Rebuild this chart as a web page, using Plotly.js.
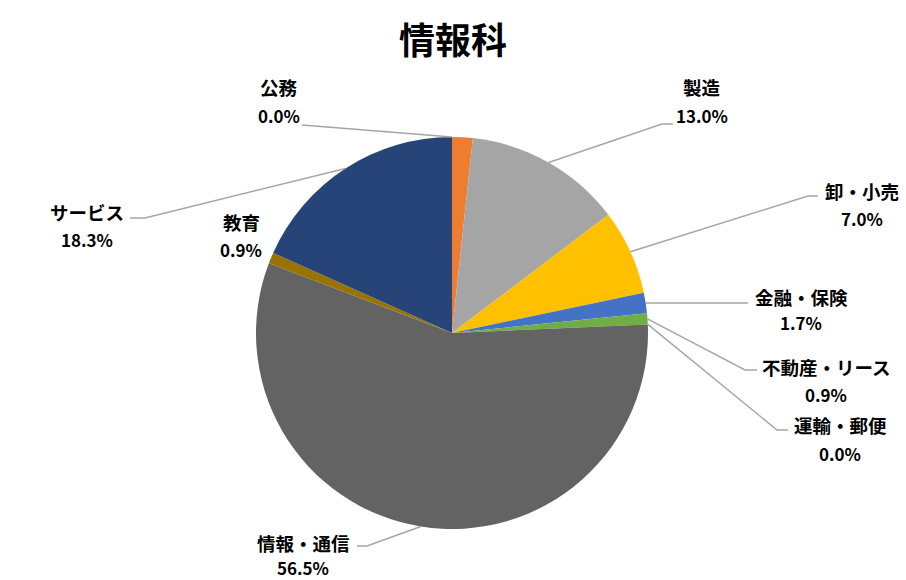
<!DOCTYPE html>
<html>
<head>
<meta charset="utf-8">
<script src="https://cdn.plot.ly/plotly-3.0.1.min.js"></script>
<style>
  body { margin: 0; background: #fff; }
  #chart { width: 906px; height: 580px; }
</style>
</head>
<body>
<div id="chart"></div>
<script>
W = 906;
H = 580;
CX = 452;
CY = 333;
R = 196;

// slices, clockwise from 12 o'clock
var categories = ["公務", "その他", "製造", "卸・小売", "金融・保険", "不動産・リース", "運輸・郵便", "情報・通信", "教育", "サービス"];
var shares = [0.0, 1.7, 13.0, 7.0, 1.7, 0.9, 0.0, 56.5, 0.9, 18.3];
var showLabel = [true, false, true, true, true, true, true, true, true, true];
var colors = ["#4472C4", "#ED7D31", "#A5A5A5", "#FFC000", "#4472C4", "#70AD47", "#264478", "#636363", "#997300", "#264478"];

// label boxes (name centre, gap to percentage) and leader elbows, in pixels
var labelPos = [
    { x: 279, y: 87, dy: 28, lead: [[302, 125]] },
    null,
    { x: 702, y: 87, dy: 28, lead: [[673, 124], [662, 124]] },
    { x: 862, y: 191, dy: 28, lead: [[818, 196], [808, 196]] },
    { x: 801, y: 297, dy: 26, lead: [[748, 303]] },
    { x: 826, y: 367, dy: 27, lead: [[757, 370], [745, 370]] },
    { x: 840, y: 425, dy: 28, lead: [[788, 430], [777, 430]] },
    { x: 303, y: 543, dy: 24, lead: [[357, 546], [367, 546]] },
    { x: 241, y: 222, dy: 28, lead: null },
    { x: 87, y: 212, dy: 28, lead: [[130, 218], [145, 218]] }
];

function px(x) { return x / W }
function py(y) { return 1 - y / H }

function sliceEdge(i) {
    let total = shares.reduce((a, b) => a + b, 0)
    let before = 0
    for (let k = 0; k < i; k++) before += shares[k]
    let mid = (before + shares[i] / 2) / total * 2 * Math.PI
    return [CX + R * Math.sin(mid), CY - R * Math.cos(mid)]
}

var annotations = []
var shapes = []

for (let i in categories) {
    let pos = labelPos[i]
    if (!showLabel[i] || !pos) continue;

    annotations.push({
        xref: "paper", yref: "paper",
        x: px(pos.x), y: py(pos.y),
        xanchor: "center", yanchor: "middle",
        showarrow: false,
        borderpad: 0,
        text: categories[i],
        font: { family: "Noto Sans CJK JP", size: 18.5, color: "#000", weight: "bold" }
    })
    annotations.push({
        xref: "paper", yref: "paper",
        x: px(pos.x), y: py(pos.y + pos.dy),
        xanchor: "center", yanchor: "middle",
        showarrow: false,
        borderpad: 0,
        text: shares[i].toFixed(1) + "%",
        font: { family: "Noto Sans CJK JP", size: 17, color: "#000", weight: "bold" }
    })

    if (pos.lead) {
        let pts = pos.lead.concat([sliceEdge(i)])
        let path = pts.map((p, k) => (k == 0 ? "M" : "L") + px(p[0]) + "," + py(p[1])).join(" ")
        shapes.push({
            type: "path",
            xref: "paper", yref: "paper",
            path: path,
            line: { color: "#A6A6A6", width: 1.5 }
        })
    }
}

var pie = {
    type: "pie",
    labels: categories,
    values: shares,
    sort: false,
    direction: "clockwise",
    rotation: 0,
    textinfo: "none",
    hoverinfo: "label+percent",
    marker: {
        colors: colors,
        line: { width: 0 }
    },
    domain: {
        x: [px(CX - R), px(CX + R)],
        y: [py(CY + R), py(CY - R)]
    }
}

Plotly.newPlot("chart", [pie], {
    width: W,
    height: H,
    showlegend: false,
    paper_bgcolor: "#fff",
    margin: { l: 0, r: 0, t: 0, b: 0, pad: 0 },
    title: {
        text: "情報科",
        x: 0.5, xanchor: "center",
        y: py(41), yanchor: "middle",
        font: { family: "Noto Sans CJK JP", size: 36, color: "#000", weight: "bold" }
    },
    annotations: annotations,
    shapes: shapes
}, {
    displayModeBar: false
});
</script>
</body>
</html>
